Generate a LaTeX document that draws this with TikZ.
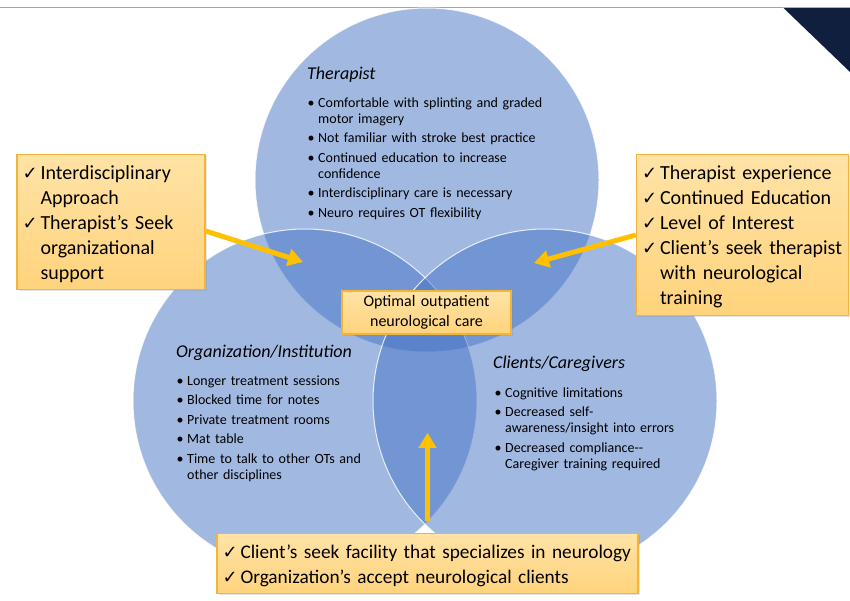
\documentclass[tikz,border=0pt]{standalone}
\usepackage{fontspec}
\setmainfont{Carlito}
\newfontfamily\checkfont{DejaVu Sans}
\usetikzlibrary{arrows.meta,positioning,calc,shadows}
\hyphenpenalty=10000
\exhyphenpenalty=10000

\definecolor{vennblue}{HTML}{4472C4}
\definecolor{boxtop}{HTML}{FFE3A6}
\definecolor{boxbot}{HTML}{FFD37C}
\definecolor{boxline}{HTML}{F2B53A}
\definecolor{arrowgold}{HTML}{FFC000}
\definecolor{cornernavy}{HTML}{0F1F3D}

% one bulleted item / one ticked item, with hanging indent
\newcommand{\bul}[1]{\par\hangindent=10.5pt\hangafter=1\noindent\makebox[10.5pt][l]{\textbullet}#1\par\vspace{3.5pt}}
\newcommand{\ck}[1]{\par\hangindent=18pt\hangafter=1\noindent\makebox[18pt][l]{\checkfont\fontsize{18}{18}\selectfont ✓}#1\par}
\newcommand{\tickpad}{\par\vspace{7pt}}

\begin{document}
\begin{tikzpicture}[x=1pt,y=-1pt,
  venn/.style={fill=vennblue,fill opacity=0.5,draw=white,draw opacity=0.8,line width=1pt},
  headtxt/.style={anchor=base west,inner sep=0pt,font=\fontsize{18}{20}\selectfont\itshape},
  listtxt/.style={anchor=base west,inner sep=0pt,text width=#1,align=left,font=\fontsize{14}{16}\selectfont},
  factbox/.style={draw=boxline,line width=1.2pt,top color=boxtop,bottom color=boxbot,inner xsep=7pt,inner ysep=0pt,align=left,
    font=\fontsize{20}{25}\selectfont,drop shadow={opacity=0.2,shadow xshift=1.5pt,shadow yshift=-1.5pt}},
  tickbox/.style={factbox,inner xsep=5.5pt,execute at end node=\tickpad},
  goldarrow/.style={draw=arrowgold,line width=5pt,-{Triangle[length=15pt,width=17pt]}}]
  \useasboundingbox (0,0) rectangle (850,600);
  \draw[gray!70,line width=0.8pt] (0,7.5) -- (783,7.5); % rule at the top of the slide
  \fill[cornernavy] (783,7.5) -- (850,7.5) -- (850,72) -- cycle; % corner mark
  \path[venn] (427,180) circle[radius=172]; % Therapist
  \path[venn] (305,401) circle[radius=172]; % Organization/Institution
  \path[venn] (545,401) circle[radius=172]; % Clients/Caregivers
  \node[headtxt] (thead) at (307,79) {Therapist};
  \node[listtxt=270pt] (tlist) at (307.5,91) {%
    \bul{Comfortable with splinting and graded\newline motor imagery}
    \bul{Not familiar with stroke best practice}
    \bul{Continued education to increase\newline confidence}
    \bul{Interdisciplinary care is necessary}
    \bul{Neuro requires OT flexibility}};
  \node[headtxt] (ohead) at (176,357) {Organization/Institution};
  \node[listtxt=200pt] (olist) at (176.5,369.2) {%
    \bul{Longer treatment sessions}
    \bul{Blocked time for notes}
    \bul{Private treatment rooms}
    \bul{Mat table}
    \bul{Time to talk to other OTs and\newline other disciplines}};
  \node[headtxt] (chead) at (493,368) {Clients/Caregivers};
  \node[listtxt=200pt] (clist) at (494.5,381) {%
    \bul{Cognitive limitations}
    \bul{Decreased self-\newline awareness/insight into errors}
    \bul{Decreased compliance{-}{-}\newline Caregiver training required}};
  \node[factbox,text width=155pt,minimum height=43pt,align=center,font=\fontsize{16}{20}\selectfont] (core) at (426.5,312.5)
    {Optimal outpatient\\neurological care}; % the shared centre
  \node[tickbox,text width=177pt,minimum height=130pt] (lbox) at (111,222) {%
    \ck{Interdisciplinary\newline Approach}
    \ck{Therapist’s Seek\newline organizational\newline support}};
  \node[tickbox,text width=201pt,minimum height=156pt] (rbox) at (742.5,235) {%
    \ck{Therapist experience}
    \ck{Continued Education}
    \ck{Level of Interest}
    \ck{Client’s seek therapist\newline with neurological\newline training}};
  \node[tickbox,text width=410pt,minimum height=55pt,font=\fontsize{19.3}{25}\selectfont] (bbox) at (427.5,563.5) {%
    \ck{Client’s seek facility that specializes in neurology}
    \ck{Organization’s accept neurological clients}};
  \coordinate (ltip) at (303,262);
  \coordinate (rtip) at (534,263);
  \coordinate (btip) at ([yshift=100pt]bbox.north);
  \draw[goldarrow] ([yshift=-9pt]lbox.east) -- (ltip);
  \draw[goldarrow] (rbox.west) -- (rtip);
  \draw[goldarrow] ([yshift=12pt]bbox.north) -- (btip);
\end{tikzpicture}
\end{document}
